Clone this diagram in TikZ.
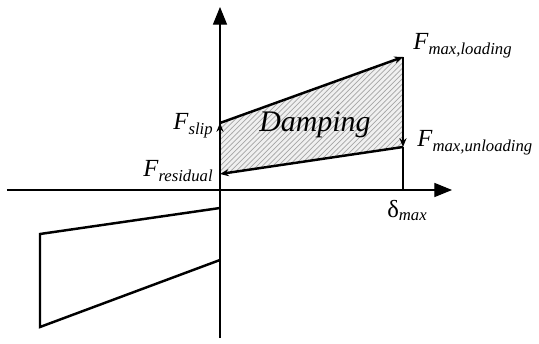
\documentclass[tikz,border=0pt]{standalone}
\usepackage{fontspec}
\setmainfont{Liberation Serif}
\usepackage{tikz}
\usetikzlibrary{arrows.meta,patterns,positioning}

\newcommand{\Flab}[1]{{\fontsize{14}{14}\selectfont\textit{F}}\raisebox{-2.5pt}{\fontsize{9.5}{9.5}\selectfont\textit{#1}}}

\begin{document}
\begin{tikzpicture}[
        axis/.style={line width=0.6pt, -{Triangle[length=10pt, width=8pt]}},
        loop/.style={line width=1.4pt},
        flow/.style={line width=1.4pt, -{Stealth[length=5pt, width=4pt]}},
        lbl/.style={inner sep=0pt}
    ]
        \useasboundingbox (-4.4,-3.08) rectangle (6.38,3.8);

        % Points
        \coordinate (O) at (0,0);
        \coordinate (slip) at (0,1.34);
        \coordinate (maxload) at (3.66,2.66);
        \coordinate (maxunload) at (3.66,0.86);
        \coordinate (residual) at (0,0.32);
        \coordinate (dmax) at (3.66,0);
        \coordinate (nA) at (0,-0.36);
        \coordinate (nB) at (-3.6,-0.88);
        \coordinate (nC) at (-3.6,-2.74);
        \coordinate (nD) at (0,-1.4);
        \coordinate (xstart) at (-4.26,0);
        \coordinate (xend) at (4.64,0);
        \coordinate (ystart) at (0,-2.96);
        \coordinate (yend) at (0,3.66);

        % Damping area
        \fill[gray!12] (residual) -- (slip) -- (maxload) -- (maxunload) -- cycle;
        \fill[pattern=north east lines, pattern color=gray!70] (residual) -- (slip) -- (maxload) -- (maxunload) -- cycle;

        % Axes
        \draw[axis] (xstart) -- (xend);
        \draw[axis] (ystart) -- (yend);

        % Loading and unloading
        \draw[flow] (residual) -- (slip);
        \draw[flow] (slip) -- (maxload);
        \draw[flow] (maxload) -- (maxunload);
        \draw[flow] (maxunload) -- (residual);
        \draw[loop] (maxunload) -- (dmax);
        \draw[loop] (residual) -- (nD);
        \draw[loop] (nA) -- (nB) -- (nC) -- (nD);

        % Labels
        \node[lbl, anchor=base west] (lload) at (3.86,2.8) {\Flab{max,loading}};
        \node[lbl, anchor=base west] (lunload) at (3.94,0.86) {\Flab{max,unloading}};
        \node[lbl, anchor=base east] (lslip) at (-0.14,1.2) {\Flab{slip}};
        \node[lbl, anchor=base east] (lres) at (-0.14,0.26) {\Flab{residual}};
        \node[lbl, anchor=base] (ldmax) at (3.74,-0.56) {{\fontsize{14}{14}\selectfont δ}\raisebox{-1.5pt}{\fontsize{9.5}{9.5}\selectfont\textit{max}}};
        \node[lbl] (damp) at (1.9,1.3) {\fontsize{17}{17}\selectfont\textit{Damping}};
    \end{tikzpicture}
\end{document}
